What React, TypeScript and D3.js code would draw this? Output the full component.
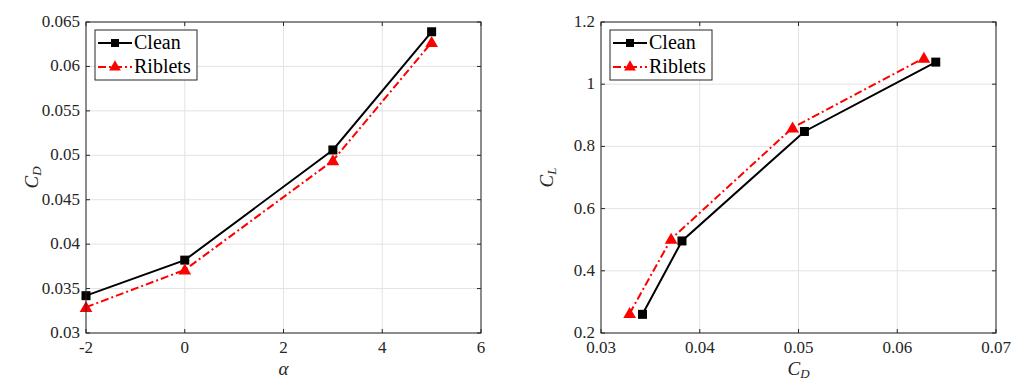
import React, { useRef, useEffect } from 'react';
import * as d3 from 'd3';

const alpha = [-2, 0, 3, 5];
const cdClean = [0.0342, 0.0382, 0.0506, 0.0639];
const cdRiblets = [0.0329, 0.0371, 0.0494, 0.0627];
const clClean = [0.26, 0.496, 0.848, 1.071];
const clRiblets = [0.263, 0.502, 0.86, 1.084];

const leftXTicks = [-2, 0, 2, 4, 6];
const leftYTicks = [0.03, 0.035, 0.04, 0.045, 0.05, 0.055, 0.06, 0.065];
const rightXTicks = [0.03, 0.04, 0.05, 0.06, 0.07];
const rightYTicks = [0.2, 0.4, 0.6, 0.8, 1, 1.2];

const seriesNames = ['Clean', 'Riblets'];

const FONT = "'Liberation Serif', 'DejaVu Serif', serif";

interface PanelSpec {
  left: number;
  xDomain: [number, number];
  yDomain: [number, number];
  xTicks: number[];
  yTicks: number[];
  xs: number[][];
  ys: number[][];
  xLabel: 'alpha' | 'CD';
  yLabel: 'CD' | 'CL';
}

const App: React.FC = () => {
  const svgRef = useRef<SVGSVGElement | null>(null);

  useEffect(() => {
    if (!svgRef.current) return;
    const svg = d3.select(svgRef.current);
    svg.selectAll('*').remove();

    const top = 22;
    const bottom = 333;
    const w = 395;

    const panels: PanelSpec[] = [
      {
        left: 86, xDomain: [-2, 6], yDomain: [0.03, 0.065],
        xTicks: leftXTicks, yTicks: leftYTicks,
        xs: [alpha, alpha], ys: [cdClean, cdRiblets],
        xLabel: 'alpha', yLabel: 'CD',
      },
      {
        left: 601, xDomain: [0.03, 0.07], yDomain: [0.2, 1.2],
        xTicks: rightXTicks, yTicks: rightYTicks,
        xs: [cdClean, cdRiblets], ys: [clClean, clRiblets],
        xLabel: 'CD', yLabel: 'CL',
      },
    ];

    panels.forEach(p => {
      const x = d3.scaleLinear().domain(p.xDomain).range([p.left, p.left + w]);
      const y = d3.scaleLinear().domain(p.yDomain).range([bottom, top]);
      const g = svg.append('g').attr('font-family', FONT);

      // grid
      g.selectAll('.gx').data(p.xTicks).enter().append('line')
        .attr('x1', d => x(d)).attr('x2', d => x(d))
        .attr('y1', top).attr('y2', bottom)
        .attr('stroke', '#e3e3e3').attr('stroke-width', 1);
      g.selectAll('.gy').data(p.yTicks).enter().append('line')
        .attr('x1', p.left).attr('x2', p.left + w)
        .attr('y1', d => y(d)).attr('y2', d => y(d))
        .attr('stroke', '#e3e3e3').attr('stroke-width', 1);

      // ticks inside, all four sides
      const tl = 4;
      p.xTicks.forEach(t => {
        g.append('line').attr('x1', x(t)).attr('x2', x(t)).attr('y1', bottom).attr('y2', bottom - tl)
          .attr('stroke', '#262626');
        g.append('line').attr('x1', x(t)).attr('x2', x(t)).attr('y1', top).attr('y2', top + tl)
          .attr('stroke', '#262626');
      });
      p.yTicks.forEach(t => {
        g.append('line').attr('x1', p.left).attr('x2', p.left + tl).attr('y1', y(t)).attr('y2', y(t))
          .attr('stroke', '#262626');
        g.append('line').attr('x1', p.left + w).attr('x2', p.left + w - tl).attr('y1', y(t)).attr('y2', y(t))
          .attr('stroke', '#262626');
      });

      // tick labels
      g.selectAll('.xl').data(p.xTicks).enter().append('text')
        .attr('x', d => x(d)).attr('y', bottom + 20)
        .attr('text-anchor', 'middle')
        .attr('font-size', 17).attr('fill', '#262626')
        .text(d => String(d));
      g.selectAll('.yl').data(p.yTicks).enter().append('text')
        .attr('x', p.left - 6).attr('y', d => y(d) + 5)
        .attr('text-anchor', 'end')
        .attr('font-size', 17).attr('fill', '#262626')
        .text(d => String(d));

      // axis labels
      const xlab = g.append('text')
        .attr('x', p.left + w / 2).attr('y', bottom + 42)
        .attr('text-anchor', 'middle')
        .attr('font-size', 19).attr('fill', '#262626');
      if (p.xLabel === 'alpha') {
        xlab.append('tspan').attr('font-style', 'italic').text('α');
      } else {
        xlab.append('tspan').attr('font-style', 'italic').text('C');
        xlab.append('tspan').attr('font-style', 'italic').attr('font-size', 13).attr('dy', 3).text('D');
      }
      const ylab = g.append('text')
        .attr('transform', `translate(${p.left - 48},${(top + bottom) / 2}) rotate(-90)`)
        .attr('text-anchor', 'middle')
        .attr('font-size', 19).attr('fill', '#262626');
      ylab.append('tspan').attr('font-style', 'italic').text('C');
      ylab.append('tspan').attr('font-style', 'italic').attr('font-size', 13).attr('dy', 3)
        .text(p.yLabel === 'CD' ? 'D' : 'L');

      // lines
      const colors = ['#000000', '#ff0000'];
      const dashes = [null, '8,3,2,3'];
      [0, 1].forEach(s => {
        const pts = p.xs[s].map((v, i) => [x(v), y(p.ys[s][i])] as [number, number]);
        g.append('path')
          .attr('d', d3.line()(pts))
          .attr('fill', 'none')
          .attr('stroke', colors[s])
          .attr('stroke-width', 2)
          .attr('stroke-dasharray', dashes[s]);
        if (s === 0) {
          g.selectAll(null).data(pts).enter().append('rect')
            .attr('x', d => d[0] - 4.5).attr('y', d => d[1] - 4.5)
            .attr('width', 9).attr('height', 9).attr('fill', '#000');
        } else {
          const tri = d3.symbol().type(d3.symbolTriangle).size(70);
          g.selectAll(null).data(pts).enter().append('path')
            .attr('d', tri())
            .attr('transform', d => `translate(${d[0]},${d[1] + 1})`)
            .attr('fill', '#ff0000');
        }
      });

      // box
      g.append('rect')
        .attr('x', p.left).attr('y', top).attr('width', w).attr('height', bottom - top)
        .attr('fill', 'none').attr('stroke', '#262626').attr('stroke-width', 1);

      // legend
      const lx = p.left + 9;
      const ly = top + 8;
      const lg = g.append('g');
      lg.append('rect').attr('x', lx).attr('y', ly).attr('width', 102).attr('height', 50)
        .attr('fill', '#fff').attr('stroke', '#262626').attr('stroke-width', 1);
      seriesNames.forEach((name, i) => {
        const cy = ly + 13 + i * 24;
        lg.append('line').attr('x1', lx + 3).attr('x2', lx + 37).attr('y1', cy).attr('y2', cy)
          .attr('stroke', colors[i]).attr('stroke-width', 2)
          .attr('stroke-dasharray', i === 1 ? '8,3,2,3' : null);
        if (i === 0) {
          lg.append('rect').attr('x', lx + 20 - 4).attr('y', cy - 4).attr('width', 8).attr('height', 8).attr('fill', '#000');
        } else {
          lg.append('path').attr('d', d3.symbol().type(d3.symbolTriangle).size(60)())
            .attr('transform', `translate(${lx + 20},${cy})`).attr('fill', '#ff0000');
        }
        lg.append('text').attr('x', lx + 39).attr('y', cy + 6)
          .attr('font-size', 20).attr('fill', '#000')
          .text(name);
      });
    });
  }, []);

  return (
    <svg ref={svgRef} width={1027} height={380} style={{ position: 'absolute', left: 0, top: 0, background: '#fff' }} />
  );
};

export default App;
